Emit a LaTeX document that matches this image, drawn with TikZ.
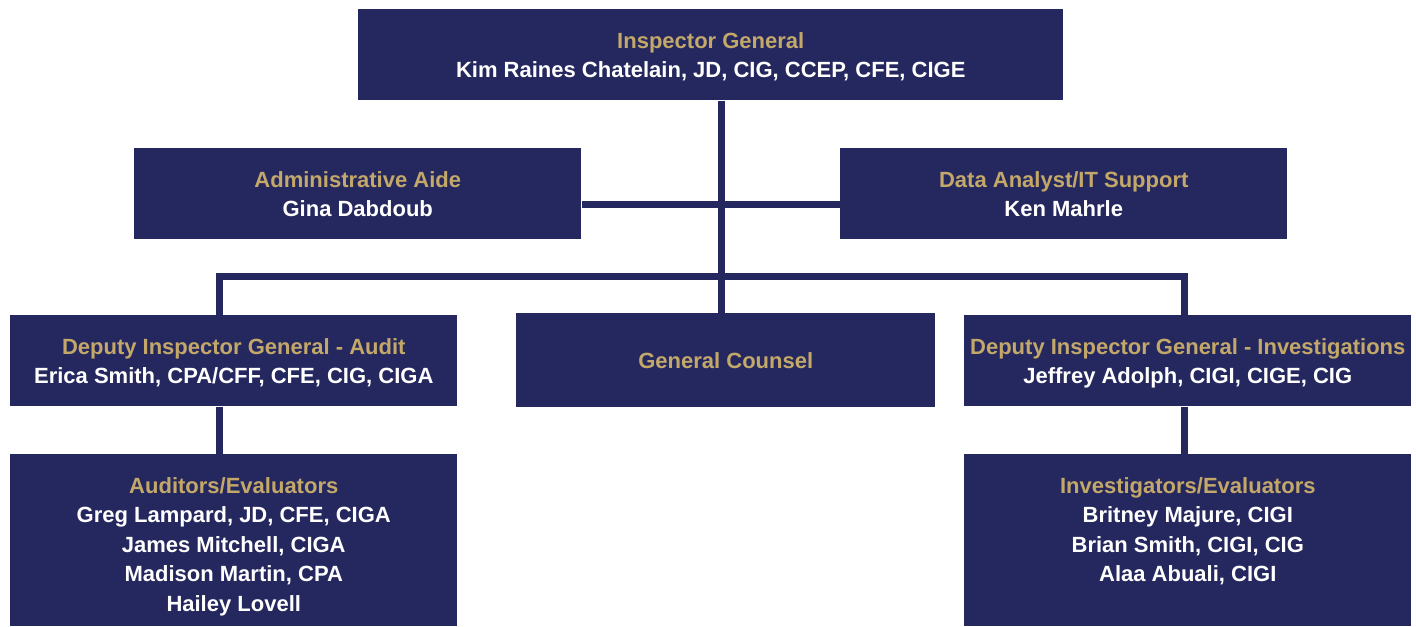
\documentclass[tikz,border=0pt]{standalone}
\usepackage{fontspec}
\setmainfont{Liberation Sans}
\usetikzlibrary{positioning, calc}
\definecolor{navy}{RGB}{37,40,94}
\definecolor{gold}{RGB}{195,168,106}
\newcommand{\role}[1]{\rule{0pt}{16.5pt}\textcolor{gold}{#1}\\}
\newcommand{\person}[1]{#1\rule[-4pt]{0pt}{4pt}}
\tikzset{
  x = 0.75pt, y = -0.75pt,
  unit/.style = {fill = navy, text = white, inner sep = 0, align = center,
    font = \bfseries\fontsize{16.5}{22.1}\selectfont,
    minimum width = 335.25pt, minimum height = 68.25pt, anchor = north west},
  wide/.style = {unit, minimum width = 528.75pt},
  staff/.style = {unit, minimum height = 129pt},
  stafftext/.style = {text = white, inner sep = 0, align = center, anchor = north,
    font = \bfseries\fontsize{16.5}{22.1}\selectfont},
  link/.style = {draw = navy, line width = 5.25pt}
}
\begin{document}
\begin{tikzpicture}
\useasboundingbox (0,0) rectangle (1416,626);

%% Junctions
\coordinate (trunk) at (721,0);
\coordinate (aidebar) at (0,204);
\coordinate (busL) at (219.5,276);
\coordinate (busR) at (1184,276);

%% Boxes
\node [wide] (ig) at (358,9) {\role{Inspector General}\person{Kim Raines Chatelain, JD, CIG, CCEP, CFE, CIGE}};
\node [unit] (aide) at (134,148) {\role{Administrative Aide}\person{Gina Dabdoub}};
\node [unit] (data) at (840,148) {\role{Data Analyst/IT Support}\person{Ken Mahrle}};
\node [unit] (digaud) at (10,315) {\role{Deputy Inspector General - Audit}\person{Erica Smith, CPA/CFF, CFE, CIG, CIGA}};
\node [unit, minimum width = 314.25pt, minimum height = 70.5pt] (gc) at (516,313) {\textcolor{gold}{General Counsel}};
\node [unit] (diginv) at (964,315) {\role{Deputy Inspector General - Investigations}\person{Jeffrey Adolph, CIGI, CIGE, CIG}};
\node [staff] (aud) at (10,454) {};
\node [staff] (inv) at (964,454) {};

%% Staff lists
\node [stafftext] (audtext) at ([yshift = -12.8pt] aud.north) {\role{Auditors/Evaluators}Greg Lampard, JD, CFE, CIGA\\James Mitchell, CIGA\\Madison Martin, CPA\\Hailey Lovell};
\node [stafftext] (invtext) at ([yshift = -12.8pt] inv.north) {\role{Investigators/Evaluators}Britney Majure, CIGI\\Brian Smith, CIGI, CIG\\Alaa Abuali, CIGI};

%% Lines
\draw [link] (ig.south -| trunk) -- (gc.north -| trunk);
\draw [link] (aide.east |- aidebar) -- (data.west |- aidebar);
\draw [link] (digaud.north -| busL) -- (busL) -- (busR) -- (diginv.north -| busR);
\draw [link] (digaud.south -| busL) -- (aud.north -| busL);
\draw [link] (diginv.south -| busR) -- (inv.north -| busR);
\end{tikzpicture}
\end{document}
